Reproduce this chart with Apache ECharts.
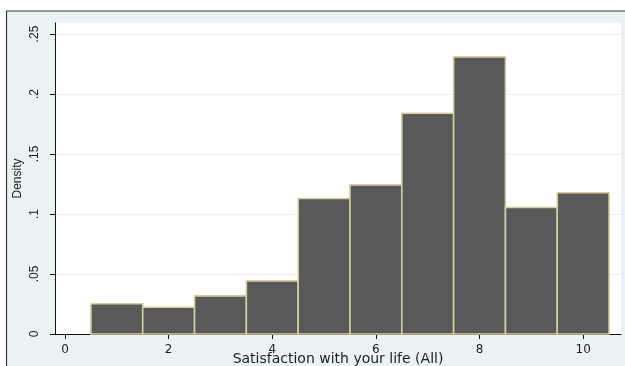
<!DOCTYPE html>
<html>
<head>
<meta charset="utf-8">
<script src="https://cdn.jsdelivr.net/npm/echarts@6/dist/echarts.min.js"></script>
<style>
  html, body { margin: 0; padding: 0; background: #ffffff; }
  #chart { width: 625px; height: 366px; }
</style>
</head>
<body>
<div id="chart"></div>
<script>
// Histogram of life satisfaction scores (density per unit-width bin)
const binCenters = [1, 2, 3, 4, 5, 6, 7, 8, 9, 10];
const density = [0.0252, 0.0223, 0.0318, 0.0443, 0.1129, 0.1243, 0.1840, 0.2310, 0.1054, 0.1177];
const binWidth = 1;
const xTicks = [0, 2, 4, 6, 8, 10];
const yTicks = [0, 0.05, 0.1, 0.15, 0.2, 0.25];
const xTitle = 'Satisfaction with your life (All)';
const yTitle = 'Density';

const chart = echarts.init(document.getElementById('chart'), null, { renderer: 'canvas' });

const fmtY = v => (v === 0 ? '0' : String(v).replace(/^0/, ''));

chart.setOption({
  animation: false,
  backgroundColor: '#ffffff',
  graphic: [{
    type: 'rect',
    z: -10,
    silent: true,
    shape: { x: 6.5, y: 11, width: 700, height: 400 },
    style: { fill: '#eaf2f3', stroke: '#3a3a3a', lineWidth: 1.2 }
  }],
  grid: {
    show: true,
    left: 55, right: 4, top: 23, bottom: 32,
    outerBoundsMode: 'none',
    containLabel: false,
    backgroundColor: '#ffffff',
    borderWidth: 0
  },
  xAxis: {
    type: 'value',
    min: -0.193,
    max: 10.73,
    name: xTitle,
    nameLocation: 'middle',
    nameGap: 18,
    nameMoveOverlap: false,
    nameTextStyle: { fontFamily: 'DejaVu Sans', fontSize: 14, color: '#1e1e1e' },
    axisLine: { show: true, onZero: false, lineStyle: { color: '#111', width: 1 } },
    axisTick: { show: true, length: 5, customValues: xTicks, lineStyle: { color: '#111' } },
    axisLabel: {
      customValues: xTicks,
      margin: 10,
      fontFamily: 'DejaVu Sans', fontSize: 12, color: '#1e1e1e'
    },
    splitLine: { show: false }
  },
  yAxis: {
    type: 'value',
    min: 0,
    max: 0.2592,
    name: yTitle,
    nameLocation: 'middle',
    nameRotate: 90,
    nameGap: 31,
    nameMoveOverlap: false,
    nameTextStyle: { fontFamily: 'Liberation Sans', fontSize: 12, color: '#1e1e1e' },
    axisLine: { show: true, onZero: false, lineStyle: { color: '#111', width: 1 } },
    axisTick: { show: true, length: 5, customValues: yTicks, lineStyle: { color: '#111' } },
    axisLabel: {
      customValues: yTicks,
      rotate: 90,
      margin: 14,
      formatter: fmtY,
      fontFamily: 'Liberation Sans', fontSize: 12, color: '#1e1e1e'
    },
    splitLine: { show: false }
  },
  series: [
    {
      // horizontal reference lines at the labelled density values
      type: 'line',
      data: [],
      z: 0,
      silent: true,
      markLine: {
        silent: true,
        z: 0,
        symbol: 'none',
        label: { show: false },
        lineStyle: { type: 'solid', color: '#e9efef', width: 1 },
        data: yTicks.slice(1).map(v => ({ yAxis: v }))
      }
    },
    {
      type: 'custom',
      z: 3,
      data: binCenters.map((c, i) => [c, density[i]]),
      renderItem: function (params, api) {
        const x = api.value(0);
        const y = api.value(1);
        const p0 = api.coord([x - binWidth / 2, y]);
        const p1 = api.coord([x + binWidth / 2, 0]);
        return {
          type: 'rect',
          shape: { x: p0[0], y: p0[1], width: p1[0] - p0[0], height: p1[1] - p0[1] },
          style: { fill: '#595959', stroke: '#d4cf9e', lineWidth: 1.6 }
        };
      }
    }
  ]
});
</script>
</body>
</html>
